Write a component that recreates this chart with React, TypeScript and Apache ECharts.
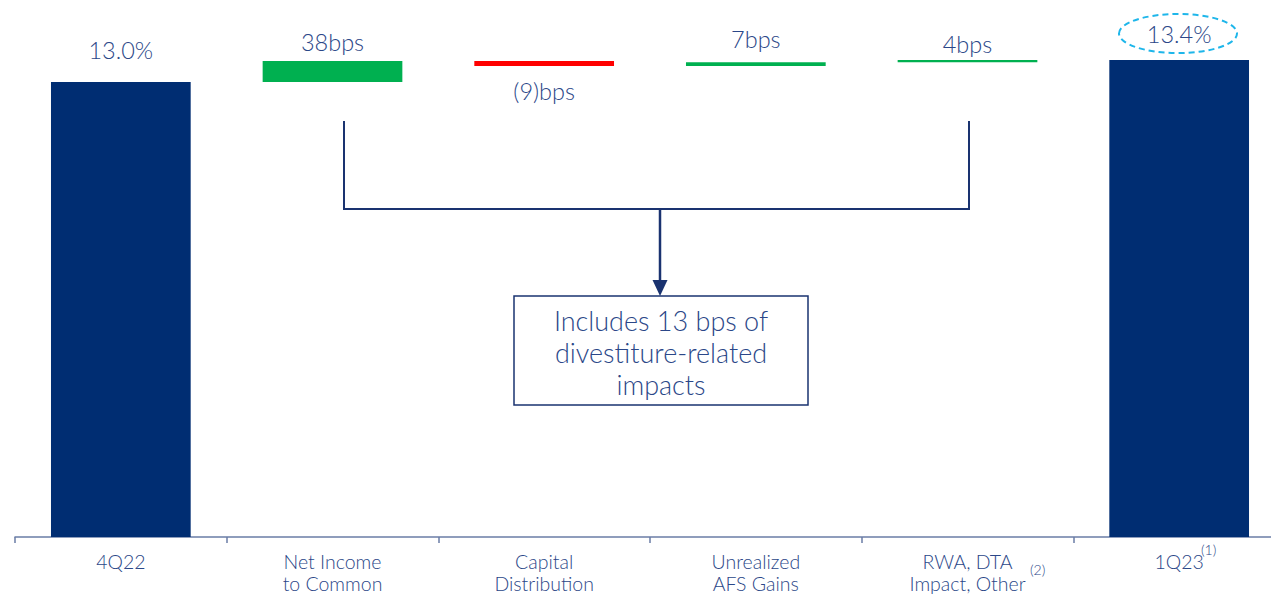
import React, { useEffect, useRef } from "react";
import * as echarts from "echarts";

const categories = [
  "4Q22",
  "Net Income\nto Common",
  "Capital\nDistribution",
  "Unrealized\nAFS Gains",
  "RWA, DTA\nImpact, Other",
  "1Q23",
];
const startValue = 13.0; // %
const endValue = 13.4; // %
const deltasBps = [38, -9, 7, 4];
const labelGap = [20, 7, 13, 11, 4, 14];

const NAVY = "#002D72";
const GREEN = "#00B050";
const RED = "#FF0000";
const TEXT = "#2B4788";
const LINE = "#1A3370";
const FONT = "Lato";

export default function App() {
  const ref = useRef<HTMLDivElement>(null);
  useEffect(() => {
    if (!ref.current) return;
    const chart = echarts.init(ref.current, undefined, { renderer: "svg" });

    const n = categories.length;
    const base: any[] = new Array(n).fill("-");
    const delta: any[] = new Array(n).fill("-");
    const totals: any[] = new Array(n).fill("-");
    totals[0] = { value: startValue, label: { distance: labelGap[0] } };
    totals[n - 1] = { value: endValue, label: { distance: labelGap[n - 1] } };
    let cum = startValue;
    deltasBps.forEach((b, i) => {
      const d = b / 100;
      const next = cum + d;
      base[i + 1] = Math.min(cum, next);
      delta[i + 1] = {
        value: Math.abs(d),
        bps: b,
        itemStyle: { color: b >= 0 ? GREEN : RED },
        label: {
          position: b >= 0 ? "top" : "bottom",
          distance: labelGap[i + 1],
        },
      };
      cum = next;
    });

    const labelCommon = {
      show: true,
      color: TEXT,
      fontSize: 23.5,
      fontFamily: FONT,
      fontWeight: 300,
    };

    chart.setOption({
      animation: false,
      grid: { left: 15, top: 60, width: 1270, height: 479, containLabel: false },
      xAxis: {
        type: "category",
        data: categories,
        axisLine: { lineStyle: { color: "#6A7DA6", width: 1.5 } },
        axisTick: { show: true, length: 6, lineStyle: { color: "#6A7DA6", width: 1.5 } },
        axisLabel: {
          color: TEXT,
          fontSize: 19.5,
          fontFamily: FONT,
          fontWeight: 300,
          lineHeight: 22,
          margin: 13,
          interval: 0,
        },
      },
      yAxis: {
        type: "value",
        min: 4.7,
        max: 13.4,
        show: false,
        splitLine: { show: false },
      },
      series: [
        {
          type: "bar",
          stack: "w",
          barWidth: "66%",
          silent: true,
          itemStyle: { color: "transparent" },
          data: base,
        },
        {
          type: "bar",
          stack: "w",
          barWidth: "66%",
          data: delta,
          label: {
            ...labelCommon,
            formatter: (p: any) => {
              const b = p.data.bps;
              return b >= 0 ? `${b}bps` : `(${Math.abs(b)})bps`;
            },
          },
        },
        {
          type: "bar",
          stack: "w",
          barWidth: "66%",
          itemStyle: { color: NAVY },
          data: totals,
          label: {
            ...labelCommon,
            position: "top",
            formatter: (p: any) => `${Number(p.value).toFixed(1)}%`,
          },
        },
      ],
      graphic: [
        {
          type: "ellipse",
          shape: { cx: 1178, cy: 33.5, rx: 59, ry: 19.5 },
          style: { fill: "none", stroke: "#1EB6EA", lineWidth: 2, lineDash: [6, 4] },
        },
        {
          type: "text",
          x: 1201,
          y: 549,
          style: { text: "(1)", fill: TEXT, fontSize: 14, fontFamily: FONT, fontWeight: 300, verticalAlign: "middle" },
        },
        {
          type: "text",
          x: 1030,
          y: 569,
          style: { text: "(2)", fill: TEXT, fontSize: 14, fontFamily: FONT, fontWeight: 300, verticalAlign: "middle" },
        },
        {
          type: "polyline",
          shape: { points: [[344, 121], [344, 209], [969, 209], [969, 121]] },
          style: { stroke: LINE, lineWidth: 2, fill: "none" },
        },
        {
          type: "line",
          shape: { x1: 660, y1: 209, x2: 660, y2: 283 },
          style: { stroke: LINE, lineWidth: 2.5 },
        },
        {
          type: "polygon",
          shape: { points: [[652.5, 280], [667.5, 280], [660, 296]] },
          style: { fill: LINE },
        },
        {
          type: "rect",
          shape: { x: 514, y: 296, width: 294, height: 109 },
          style: { fill: "#fff", stroke: LINE, lineWidth: 1.5 },
        },
        {
          type: "text",
          x: 661,
          y: 352,
          style: {
            text: "Includes 13 bps of\ndivestiture-related\nimpacts",
            fill: TEXT,
            fontSize: 27,
            lineHeight: 32,
            fontFamily: FONT,
            fontWeight: 300,
            align: "center",
            verticalAlign: "middle",
          },
        },
      ],
    });
    return () => chart.dispose();
  }, []);

  return (
    <div
      style={{
        position: "fixed",
        left: 0,
        top: 0,
        width: 1271,
        height: 594,
        overflow: "hidden",
        background: "#fff",
      }}
    >
      <div ref={ref} style={{ width: 1300, height: 594 }} />
    </div>
  );
}
